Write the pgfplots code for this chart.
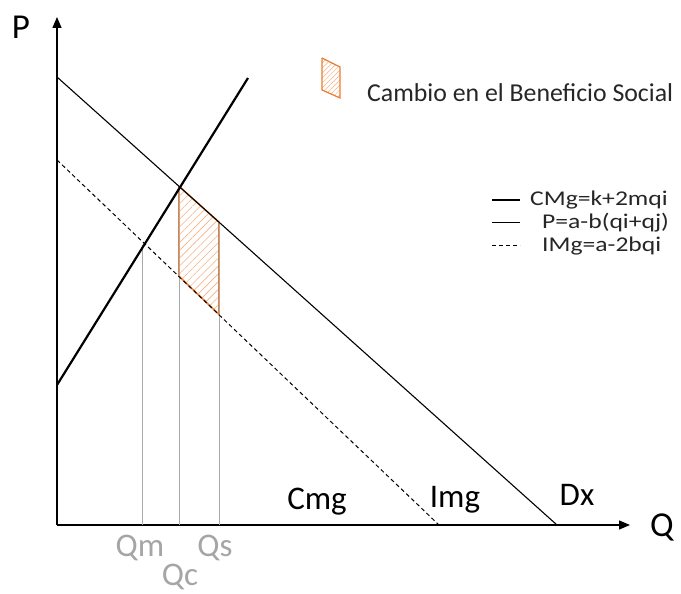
\documentclass[border=0pt]{standalone}
\usepackage{pgfplots}
\pgfplotsset{compat=1.18}
\usepackage{fontspec}
\setmainfont{Carlito}
\newfontfamily\legendfont[FakeStretch=1.22]{Carlito}
\usetikzlibrary{arrows.meta,patterns.meta}

\definecolor{hatchorange}{RGB}{237,125,49}
\definecolor{guidegray}{RGB}{170,170,170}
\definecolor{labelgray}{RGB}{165,165,165}

\begin{document}
\begin{tikzpicture}
    \begin{axis}[
        scale only axis,
        width  = 681pt,
        height = 588pt,
        xmin = -57, xmax = 624,
        ymin = -63, ymax = 525,
        hide axis,
        clip = false]

        % keep the page the size of the reference
        \addplot[draw=none] coordinates {(-57,-63) (624,525)};

        % axes
        \addplot[line width=1.4pt, -{Triangle[length=11pt,width=9pt]}] coordinates {(0,0) (573,0)};
        \addplot[line width=1.4pt, -{Triangle[length=11pt,width=9pt]}] coordinates {(0,0) (0,508)};

        % change in social welfare
        \addplot[draw=hatchorange, line width=1.6pt,
                 pattern={Lines[angle=45,distance=5.5pt,line width=0.6pt]},
                 pattern color=hatchorange!60] coordinates {
            (122,338.7) (162,302.8) (162,210.6) (122,248.7) (122,338.7)};

        % guide lines
        \addplot[guidegray, line width=0.9pt] coordinates {(85,0) (85,280)};
        \addplot[guidegray, line width=0.9pt] coordinates {(122,0) (122,338.7)};
        \addplot[guidegray, line width=0.9pt] coordinates {(162,0) (162,302.8)};

        % demand, marginal revenue, marginal cost
        \addplot[black, line width=1.1pt] coordinates {(0,448) (500,0)};
        \addplot[black, line width=1pt, dash pattern=on 4pt off 3pt] coordinates {(0,365) (382,0)};
        \addplot[black, line width=2.2pt] coordinates {(0,140) (191,447)};

        % legend
        \addplot[draw=hatchorange, line width=1.2pt,
                 pattern={Lines[angle=45,distance=3.5pt,line width=0.5pt]},
                 pattern color=hatchorange!60] coordinates {
            (265,467) (283,458) (283,427) (265,435) (265,467)};
        \node[anchor=west, inner sep=0pt, font=\fontsize{25.8}{30}\selectfont, text=black!85] at (axis cs:310,432) {Cambio en el Beneficio Social};

        \addplot[black, line width=2.4pt] coordinates {(435,325) (463,325)};
        \addplot[black, line width=1pt] coordinates {(435,302) (463,302)};
        \addplot[black, line width=1pt, dash pattern=on 4pt off 3pt] coordinates {(435,279) (463,279)};
        \node[anchor=west, inner sep=0pt, font=\legendfont\fontsize{21}{24}\selectfont, text=black!85] at (axis cs:473,325) {CMg=k+2mqi};
        \node[anchor=west, inner sep=0pt, font=\legendfont\fontsize{21}{24}\selectfont, text=black!85] at (axis cs:485,302) {P=a-b(qi+qj)};
        \node[anchor=west, inner sep=0pt, font=\legendfont\fontsize{21}{24}\selectfont, text=black!85] at (axis cs:485,279) {IMg=a-2bqi};

        % labels
        \node[font=\fontsize{35}{40}\selectfont] at (axis cs:-36,498) {P};
        \node[font=\fontsize{35}{40}\selectfont] at (axis cs:605,-2) {Q};
        \node[font=\fontsize{33}{40}\selectfont] at (axis cs:260,23) {Cmg};
        \node[font=\fontsize{33}{40}\selectfont] at (axis cs:398,25) {Img};
        \node[font=\fontsize{33}{40}\selectfont] at (axis cs:520,30) {Dx};
        \node[labelgray, font=\fontsize{33}{40}\selectfont] at (axis cs:83,-23) {Qm};
        \node[labelgray, font=\fontsize{33}{40}\selectfont] at (axis cs:123,-52) {Qc};
        \node[labelgray, font=\fontsize{33}{40}\selectfont] at (axis cs:158,-23) {Qs};
    \end{axis}
\end{tikzpicture}
\end{document}
